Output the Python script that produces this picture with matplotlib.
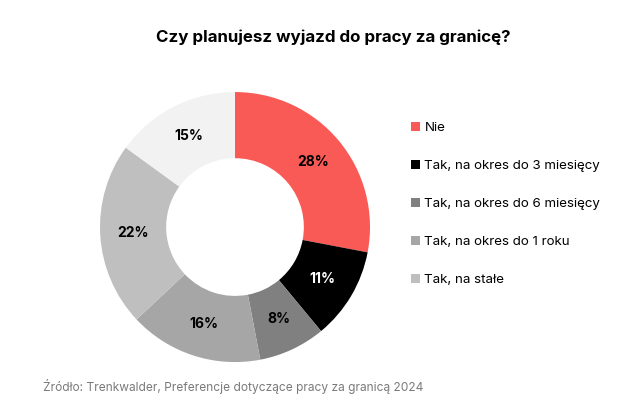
import matplotlib.pyplot as plt
from matplotlib.patches import Patch

plt.rcParams['font.family'] = ['Inter', 'DejaVu Sans']

# dane
labels = ["Nie", "Tak, na okres do 3 miesięcy", "Tak, na okres do 6 miesięcy",
          "Tak, na okres do 1 roku", "Tak, na stałe", ""]
values = [28, 11, 8, 16, 22, 15]
colors = ["#fa5a55", "#000000", "#808080", "#a6a6a6", "#bfbfbf", "#f2f2f2"]
text_colors = ["black", "white", "black", "black", "black", "black"]

fig = plt.figure(figsize=(6.4, 4.05), dpi=100)
ax = fig.add_axes([0.15625, 0.106, 0.4219, 0.6667])

wedges, texts, autotexts = ax.pie(
    values, colors=colors, startangle=90, counterclock=False,
    radius=1, wedgeprops=dict(width=0.49, linewidth=0),
    autopct='%d%%', pctdistance=0.755,
    textprops=dict(fontsize=10, fontweight='bold'))
for t, c in zip(autotexts, text_colors):
    t.set_color(c)
ax.set_xlim(-1, 1)
ax.set_ylim(-1, 1)
ax.set_aspect('equal')

# legenda (bez ostatniego wycinka)
handles = [Patch(facecolor=c, edgecolor='none') for c in colors[:5]]
fig.legend(handles, labels[:5], loc='upper left', bbox_to_anchor=(0.634, 0.713),
           frameon=False, fontsize=9.6, handlelength=0.7, handleheight=0.7,
           handletextpad=0.3, labelspacing=1.93, borderaxespad=0)

fig.text(0.521, 0.908, "Czy planujesz wyjazd do pracy za granicę?",
         ha='center', va='center', fontsize=12.2, fontweight='bold')
fig.text(0.067, 0.045, "Źródło: Trenkwalder, Preferencje dotyczące pracy za granicą 2024",
         ha='left', va='center', fontsize=8.6, color='#7a7a7a')

fig.savefig("out.png", dpi=100)
